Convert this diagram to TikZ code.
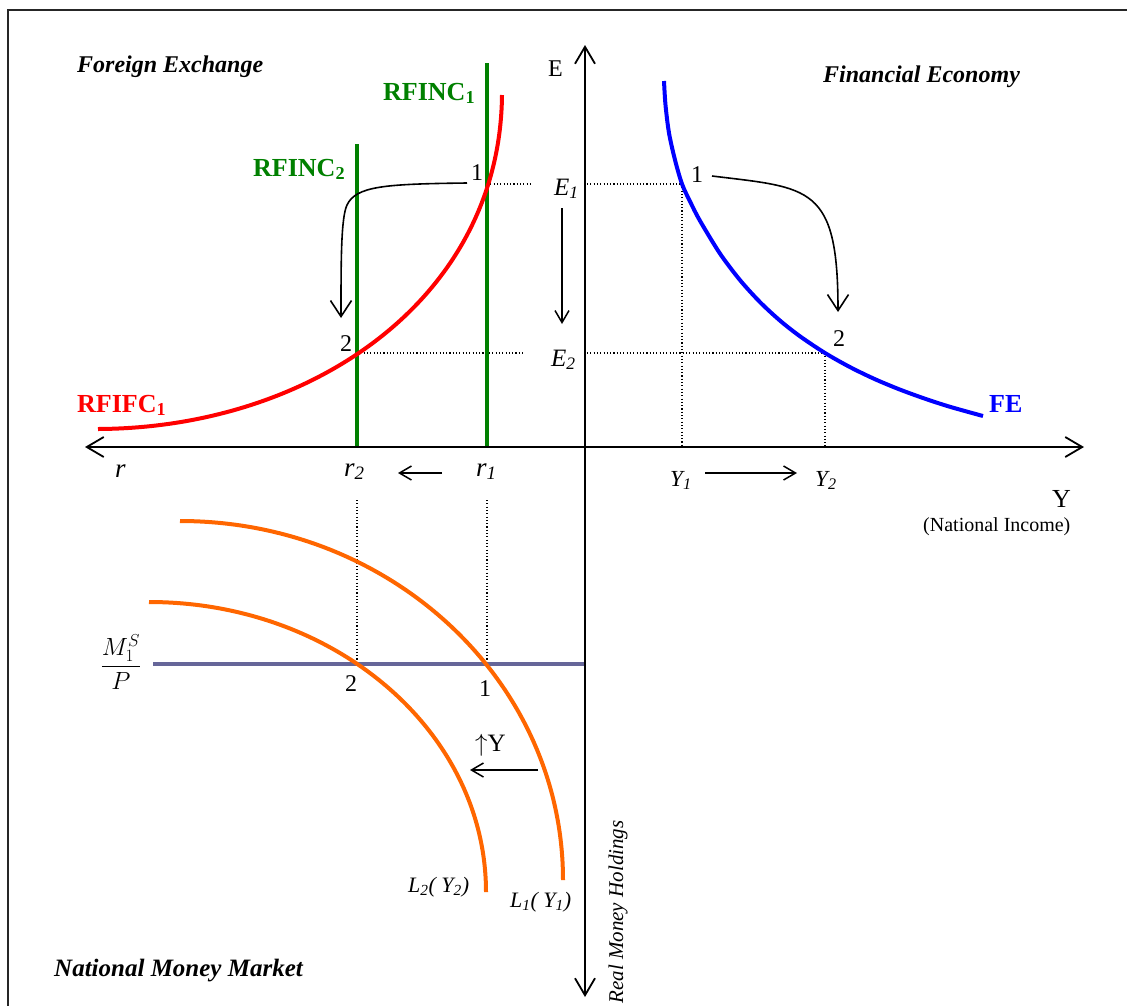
\documentclass[tikz,border=0pt]{standalone}
\usepackage{fontspec}
\setmainfont{Liberation Serif}
\usetikzlibrary{arrows.meta}
\definecolor{fxgreen}{RGB}{0,128,0}
\definecolor{fxred}{RGB}{255,0,0}
\definecolor{feblue}{RGB}{0,0,255}
\definecolor{lmorange}{RGB}{255,102,0}
\definecolor{slate}{RGB}{102,102,153}
\begin{document}
\begin{tikzpicture}[x=1pt,y=-1pt,
  axisline/.style={line width=1.8pt, {Straight Barb[length=17pt,width=20pt]}-{Straight Barb[length=17pt,width=20pt]}},
  bigarrow/.style={line width=1.6pt, -{Straight Barb[length=16pt,width=21pt]}},
  smallarrow/.style={line width=1.5pt, -{Straight Barb[length=12pt,width=14pt]}},
  guide/.style={line width=1.1pt, dash pattern=on 1.1pt off 2.2pt},
  curvegreen/.style={draw=fxgreen, line width=3.8pt},
  curvered/.style={draw=fxred, line width=4pt},
  curveblue/.style={draw=feblue, line width=4pt},
  curveorange/.style={draw=lmorange, line width=4pt},
  supplyline/.style={draw=slate, line width=4pt},
  lbl/.style={font=\fontsize{22}{26}\selectfont, inner sep=0pt, anchor=base west},
  num/.style={font=\fontsize{24}{28}\selectfont, inner sep=0pt},
  title/.style={font=\fontsize{24}{28}\selectfont\bfseries\itshape, inner sep=0pt, anchor=base west},
  curvelbl/.style={font=\fontsize{26}{30}\selectfont\bfseries, inner sep=0pt, anchor=base west}
]
\useasboundingbox (0,0) rectangle (1127,1005);
% frame
\draw[line width=2pt, black!85] (8,1012) -- (8,10) -- (1135,10);

% key points
\coordinate (A1) at (487,184);
\coordinate (A2) at (357,353);
\coordinate (B1) at (682,184);
\coordinate (B2) at (825,353);
\coordinate (C1) at (487,664);
\coordinate (C2) at (357,664);
\coordinate (E1a) at (533,184);
\coordinate (E1b) at (587,184);
\coordinate (E2a) at (525,353);
\coordinate (E2b) at (587,353);
\coordinate (Y1a) at (682,447);
\coordinate (Y2a) at (825,447);
\coordinate (R1a) at (487,500);
\coordinate (R2a) at (357,500);

% dotted guides
\draw[guide] (A1) -- (E1a);
\draw[guide] (E1b) -- (B1);
\draw[guide] (A2) -- (E2a);
\draw[guide] (E2b) -- (B2);
\draw[guide] (B1) -- (Y1a);
\draw[guide] (B2) -- (Y2a);
\draw[guide] (R1a) -- (C1);
\draw[guide] (R2a) -- (C2);

% green RFINC lines
\coordinate (G1t) at (487,63);
\coordinate (G1b) at (487,447);
\coordinate (G2t) at (357,144);
\coordinate (G2b) at (357,447);
\draw[curvegreen] (G1t) -- (G1b);
\draw[curvegreen] (G2t) -- (G2b);

% red RFIFC curve
\coordinate (Rs) at (98,429);
\coordinate (Re) at (502,95);
\draw[curvered] (Rs) .. controls (310,428) and (500,300) .. (Re);

% blue FE curve
\draw[curveblue] plot[smooth, tension=0.5] coordinates {(664,81) (665.5,105) (669,133) (675,160) (682,184) (690,201.4) (700,220.8) (720,253.6) (740,280.1) (760,302.1) (780,320.6) (800,336.3) (825,353) (850,367.1) (875,379.2) (900,389.6) (925,398.7) (950,406.8) (983,416)};

% money market
\coordinate (Ms) at (153,664);
\coordinate (Me) at (585,664);
\draw[supplyline] (Ms) -- (Me);
\draw[curveorange] (180,521) arc[start angle=270, end angle=360, x radius=383, y radius=359];
\draw[curveorange] (149,602) arc[start angle=270, end angle=360, x radius=337, y radius=290];

% axes
\coordinate (Etop) at (585,45);
\coordinate (Mbot) at (585,997);
\coordinate (rleft) at (85,447);
\coordinate (Yright) at (1084,447);
\draw[axisline] (Etop) -- (Mbot);
\draw[axisline] (rleft) -- (Yright);

% titles
\node[title] (tFX) at (77,72) {Foreign Exchange};
\node[title] (tFE) at (823,82) {Financial Economy};
\node[title, font=\fontsize{25}{29}\selectfont\bfseries\itshape] (tMM) at (54,976) {National Money Market};

% curve labels
\node[curvelbl, text=fxgreen] (lRF1) at (383,100) {RFINC\textsubscript{1}};
\node[curvelbl, text=fxgreen] (lRF2) at (253,176) {RFINC\textsubscript{2}};
\node[curvelbl, text=fxred] (lRFI) at (77,412) {RFIFC\textsubscript{1}};
\node[curvelbl, text=feblue] (lFE) at (989,412) {FE};

% axis labels
\node[lbl, font=\fontsize{24}{28}\selectfont] (lE) at (548,76) {E};
\node[lbl, font=\fontsize{25}{29}\selectfont] (lE1) at (554,195) {\itshape E\textsubscript{1}};
\node[lbl, font=\fontsize{25}{29}\selectfont] (lE2) at (551,366) {\itshape E\textsubscript{2}};
\node[lbl, font=\fontsize{27}{31}\selectfont] (lr) at (115,477) {\itshape r};
\node[lbl, font=\fontsize{27}{31}\selectfont] (lr2) at (344,476) {\itshape r\textsubscript{2}};
\node[lbl, font=\fontsize{27}{31}\selectfont] (lr1) at (476,476) {\itshape r\textsubscript{1}};
\node[lbl, font=\fontsize{23}{27}\selectfont] (lY1) at (670,486) {\itshape Y\textsubscript{1}};
\node[lbl, font=\fontsize{23}{27}\selectfont] (lY2) at (815,486) {\itshape Y\textsubscript{2}};
\node[lbl, font=\fontsize{26}{30}\selectfont] (lY) at (1052,507) {Y};
\node[lbl, font=\fontsize{20}{24}\selectfont] (lNI) at (923,531) {(National Income)};
\node[lbl] (lL2) at (408,892) {\itshape L\textsubscript{2}( Y\textsubscript{2})};
\node[lbl] (lL1) at (510,907) {\itshape L\textsubscript{1}( Y\textsubscript{1})};
\node[font=\fontsize{21}{25}\selectfont\itshape, inner sep=0pt, rotate=90] (lRMH) at (618,912) {Real Money Holdings};
\node[font=\fontsize{27}{31}\selectfont, inner sep=0pt] (lMP) at (121,662) {$\displaystyle\frac{M_1^S}{P}$};
\node[lbl, font=\fontsize{25}{29}\selectfont] (lUY) at (475,751) {$\uparrow$Y};

% numbers
\node[num] (n1a) at (477,173) {1};
\node[num] (n2a) at (346,344) {2};
\node[num] (n1b) at (697,175) {1};
\node[num] (n2b) at (839,339) {2};
\node[num] (n2c) at (351,684) {2};
\node[num] (n1c) at (485,689) {1};

% movement arrows
\coordinate (sFX) at (467,183);
\coordinate (eFX) at (341,318);
\draw[bigarrow] (sFX) .. controls (385,184) and (356,186) .. (347,205) .. controls (341,218) and (341,260) .. (eFX);
\coordinate (sFE) at (712,176);
\coordinate (eFE) at (838,312);
\draw[bigarrow] (sFE) .. controls (810,188) and (838,185) .. (eFE);
\coordinate (sE) at (562,208);
\coordinate (eE) at (562,324);
\draw[smallarrow] (sE) -- (eE);
\coordinate (sR) at (442,473);
\coordinate (eR) at (398,473);
\draw[smallarrow] (sR) -- (eR);
\coordinate (sY) at (705,473);
\coordinate (eY) at (797,473);
\draw[smallarrow] (sY) -- (eY);
\coordinate (sL) at (538,770);
\coordinate (eL) at (470,770);
\draw[smallarrow] (sL) -- (eL);
\end{tikzpicture}
\end{document}
